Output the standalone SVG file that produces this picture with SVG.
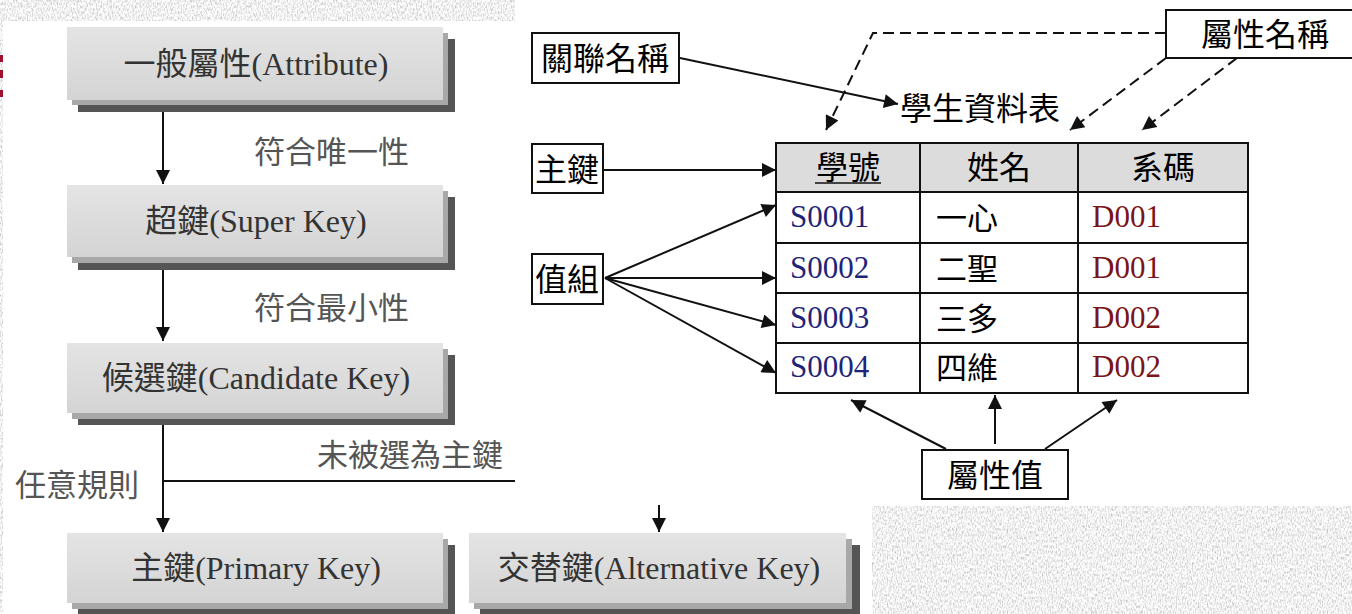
<svg xmlns="http://www.w3.org/2000/svg" width="1352" height="614" viewBox="0 0 1352 614">
<style>
.sh2{fill:#555}
.sh1{fill:#a8a8a8}
.bx{fill:url(#bg)}
.bt{font-family:"Liberation Serif","Noto Sans CJK TC",serif;font-size:32px;fill:#333;text-anchor:middle}
.lbl{font-family:"Noto Sans CJK TC",sans-serif;font-size:31px;fill:#555}
.ln{stroke:#111;stroke-width:2;fill:none}
.dash{stroke:#111;stroke-width:2;fill:none;stroke-dasharray:11 6}
.rb{fill:#fff;stroke:#111;stroke-width:2}
.rt{font-family:"Noto Sans CJK TC",sans-serif;font-size:32px;fill:#000;text-anchor:middle}
.ct{font-family:"Noto Sans CJK TC",sans-serif;font-size:31px;fill:#000}
.sv{font-family:"Liberation Serif",serif;font-size:31px;fill:#1e2478}
.dv{font-family:"Liberation Serif",serif;font-size:31px;fill:#7a1418}
.tex{fill:#e6e6e6;filter:url(#tx)}
</style>
<defs>
<linearGradient id="bg" x1="0" y1="0" x2="0" y2="1">
<stop offset="0" stop-color="#e4e4e4"/>
<stop offset="1" stop-color="#d4d4d4"/>
</linearGradient>
<filter id="tx" x="0" y="0" width="100%" height="100%">
<feTurbulence type="fractalNoise" baseFrequency="0.8 0.35" numOctaves="3" seed="5" result="n"/>
<feColorMatrix in="n" type="matrix" values="1.0 0 0 0 0.38  1.0 0 0 0 0.38  1.0 0 0 0 0.38  0 0 0 0 1"/>
<feComposite in2="SourceGraphic" operator="in"/>
</filter>
<marker id="ah" viewBox="0 0 10 10" refX="10" refY="5" markerWidth="18" markerHeight="14" markerUnits="userSpaceOnUse" orient="auto">
<path d="M0,0 L10,5 L0,10 z" fill="#111"/>
</marker>
</defs>
<rect width="1352" height="614" fill="#fff"/>
<g id="background">
<rect class="tex" x="0" y="0" width="515" height="21"/>
<rect class="tex" x="0" y="0" width="3" height="614"/>
<rect class="tex" x="872" y="506" width="480" height="108"/>
<rect x="0" y="55" width="3" height="7" fill="#a01030"/>
<rect x="0" y="70" width="3" height="8" fill="#a01030"/>
<rect x="0" y="90" width="3" height="7" fill="#a01030"/>
</g>
<g id="left-connectors">
<line class="ln" x1="163" y1="105" x2="163" y2="184" marker-end="url(#ah)"/>
<line class="ln" x1="163" y1="262" x2="163" y2="341" marker-end="url(#ah)"/>
<line class="ln" x1="163" y1="418" x2="163" y2="532" marker-end="url(#ah)"/>
<line class="ln" x1="163" y1="481" x2="515" y2="481"/>
<line class="ln" x1="659" y1="505" x2="659" y2="532" marker-end="url(#ah)"/>
</g>
<g id="left-labels">
<text class="lbl" x="254" y="163">符合唯一性</text>
<text class="lbl" x="254" y="319">符合最小性</text>
<text class="lbl" x="317" y="466">未被選為主鍵</text>
<text class="lbl" x="15" y="496">任意規則</text>
</g>
<g id="n-attribute">
<rect class="sh2" x="78" y="39" width="377" height="73"/>
<rect class="sh1" x="72" y="33" width="376" height="72"/>
<rect class="bx" x="67" y="27" width="376" height="73"/>
<text class="bt" x="256" y="75">一般屬性(Attribute)</text>
</g>
<g id="n-superkey">
<rect class="sh2" x="78" y="197" width="377" height="73"/>
<rect class="sh1" x="72" y="191" width="376" height="72"/>
<rect class="bx" x="67" y="185" width="376" height="72"/>
<text class="bt" x="256" y="232">超鍵(Super Key)</text>
</g>
<g id="n-candidate">
<rect class="sh2" x="78" y="355" width="377" height="70"/>
<rect class="sh1" x="72" y="349" width="376" height="70"/>
<rect class="bx" x="67" y="343" width="376" height="70"/>
<text class="bt" x="256" y="389">候選鍵(Candidate Key)</text>
</g>
<g id="n-primary">
<rect class="sh2" x="78" y="545" width="377" height="70"/>
<rect class="sh1" x="72" y="539" width="376" height="70"/>
<rect class="bx" x="67" y="533" width="376" height="70"/>
<text class="bt" x="256" y="579">主鍵(Primary Key)</text>
</g>
<g id="n-alternative">
<rect class="sh2" x="480" y="545" width="380" height="70"/>
<rect class="sh1" x="474" y="539" width="378" height="70"/>
<rect class="bx" x="469" y="533" width="377" height="70"/>
<text class="bt" x="659" y="579">交替鍵(Alternative Key)</text>
</g>
<g id="right-connectors">
<line class="ln" x1="680" y1="58" x2="898" y2="104" marker-end="url(#ah)"/>
<line class="ln" x1="604" y1="170" x2="776" y2="170" marker-end="url(#ah)"/>
<line class="ln" x1="605" y1="278" x2="776" y2="205" marker-end="url(#ah)"/>
<line class="ln" x1="605" y1="278" x2="776" y2="278" marker-end="url(#ah)"/>
<line class="ln" x1="605" y1="278" x2="776" y2="325" marker-end="url(#ah)"/>
<line class="ln" x1="605" y1="278" x2="776" y2="373" marker-end="url(#ah)"/>
<path class="dash" d="M1166,33 H873 L826,130" marker-end="url(#ah)"/>
<line class="dash" x1="1166" y1="58" x2="1070" y2="130" marker-end="url(#ah)"/>
<line class="dash" x1="1237" y1="58" x2="1142" y2="130" marker-end="url(#ah)"/>
<line class="ln" x1="946" y1="449" x2="851" y2="400" marker-end="url(#ah)"/>
<line class="ln" x1="995" y1="444" x2="995" y2="395" marker-end="url(#ah)"/>
<line class="ln" x1="1045" y1="449" x2="1117" y2="400" marker-end="url(#ah)"/>
</g>
<g id="n-relname">
<rect class="rb" x="532" y="33" width="147" height="50"/>
<text class="rt" x="605" y="70">關聯名稱</text>
</g>
<g id="n-pk">
<rect class="rb" x="532" y="144" width="71" height="49"/>
<text class="rt" x="567" y="181">主鍵</text>
</g>
<g id="n-tuple">
<rect class="rb" x="532" y="254" width="71" height="50"/>
<text class="rt" x="567" y="291">值組</text>
</g>
<g id="n-attrname">
<rect class="rb" x="1166" y="10" width="200" height="48"/>
<text class="rt" x="1265" y="46">屬性名稱</text>
</g>
<g id="n-attrval">
<rect class="rb" x="922" y="450" width="146" height="49"/>
<text class="rt" x="995" y="487">屬性值</text>
</g>
<g id="n-tablename">
<text class="rt" x="980" y="120">學生資料表</text>
</g>
<g id="n-table">
<rect x="776" y="143" width="472" height="49" fill="#dcdcdc"/>
<rect x="776" y="143" width="472" height="250" fill="none" stroke="#111" stroke-width="2"/>
<line class="ln" x1="776" y1="192" x2="1248" y2="192"/>
<line class="ln" x1="776" y1="243" x2="1248" y2="243"/>
<line class="ln" x1="776" y1="293" x2="1248" y2="293"/>
<line class="ln" x1="776" y1="343" x2="1248" y2="343"/>
<line class="ln" x1="920" y1="143" x2="920" y2="393"/>
<line class="ln" x1="1078" y1="143" x2="1078" y2="393"/>
<text class="rt" x="848" y="179" font-size="31">學號</text>
<line x1="815" y1="183" x2="881" y2="183" stroke="#111" stroke-width="1.5"/>
<text class="rt" x="999" y="179" font-size="31">姓名</text>
<text class="rt" x="1163" y="179" font-size="31">系碼</text>
<text class="sv" x="790" y="227">S0001</text>
<text class="sv" x="790" y="278">S0002</text>
<text class="sv" x="790" y="328">S0003</text>
<text class="sv" x="790" y="377">S0004</text>
<text class="ct" x="936" y="229">一心</text>
<text class="ct" x="936" y="280">二聖</text>
<text class="ct" x="936" y="330">三多</text>
<text class="ct" x="936" y="379">四維</text>
<text class="dv" x="1092" y="227">D001</text>
<text class="dv" x="1092" y="278">D001</text>
<text class="dv" x="1092" y="328">D002</text>
<text class="dv" x="1092" y="377">D002</text>
</g>
</svg>
